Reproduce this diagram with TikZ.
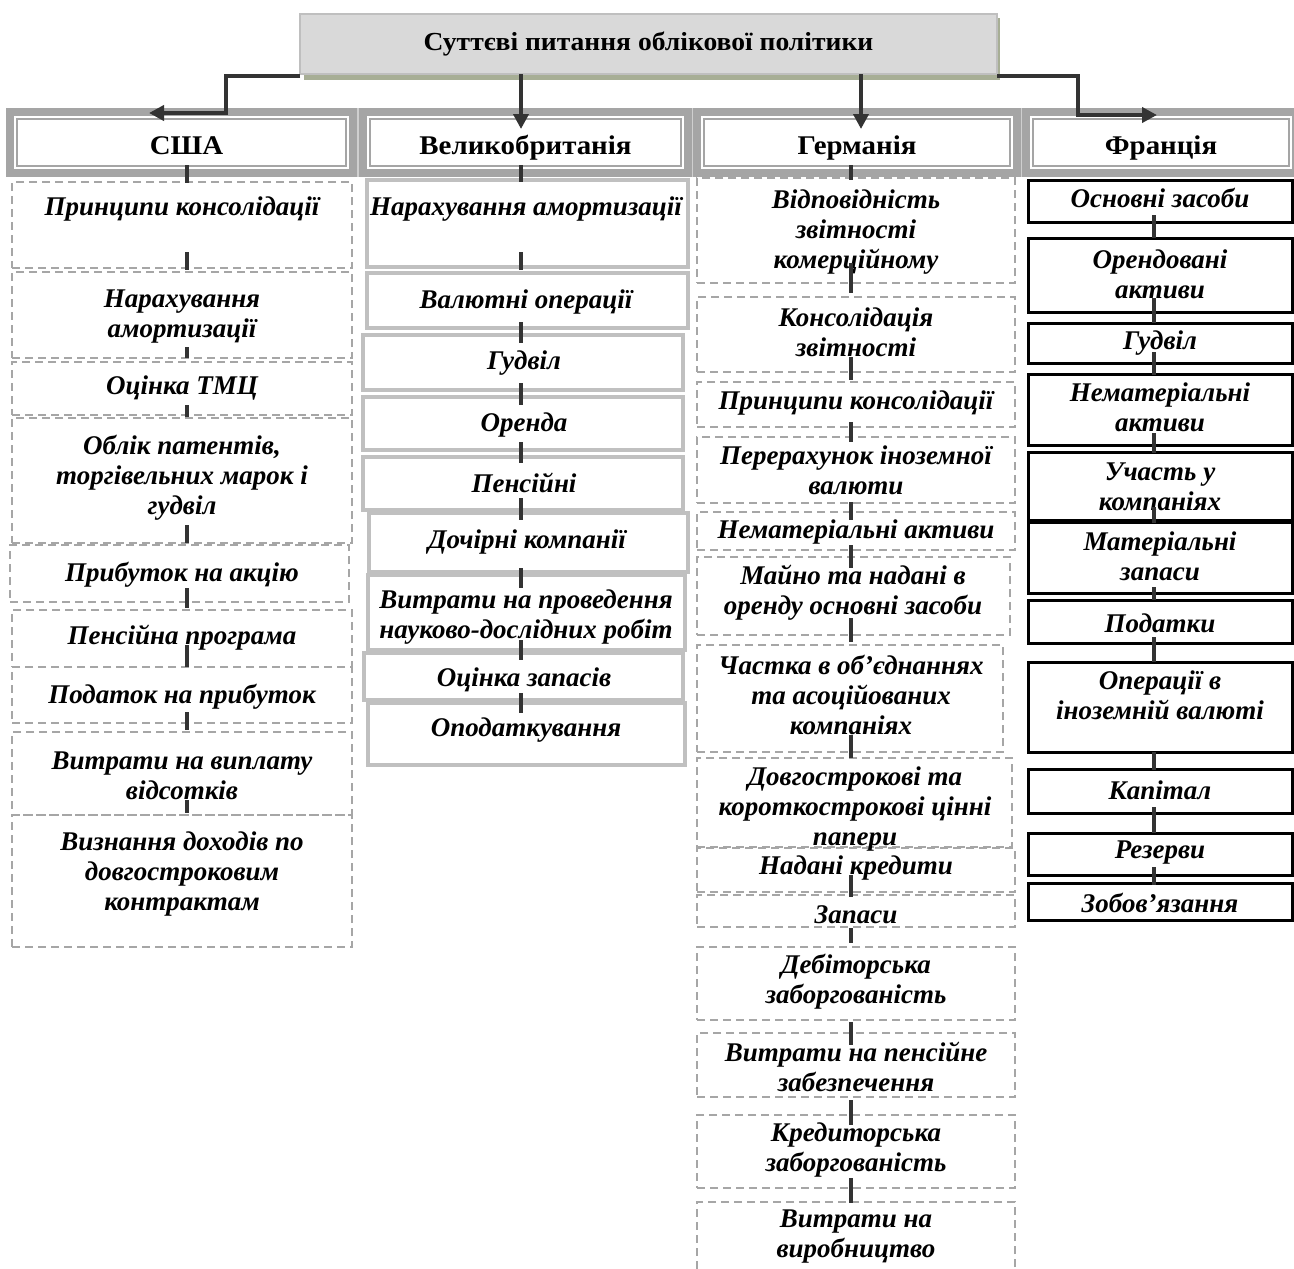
\documentclass[tikz,border=0pt]{standalone}
\usepackage{fontspec}
\setmainfont{Liberation Serif}
\usetikzlibrary{arrows.meta,calc}
\definecolor{cl}{HTML}{333333}
\definecolor{dg}{HTML}{A6A6A6}
\definecolor{ukg}{HTML}{C0C0C0}
\definecolor{hg}{HTML}{A5A5A5}
\definecolor{hsep}{HTML}{CFCFCF}
\definecolor{tf}{HTML}{D9D9D9}
\definecolor{tb}{HTML}{BFBFBF}
\definecolor{sh}{HTML}{A7AE95}
\newfontfamily\hdrfont[FakeStretch=1.07]{Liberation Serif}
\newfontfamily\ttlfont[FakeStretch=1.06]{Liberation Serif}
\newcommand\bx[6]{\node[#1, minimum width={#5-#3}, minimum height={#6-#4}, anchor=north west] (#2) at (#3,#4) {};}
\newcommand\tx[4]{\node[it] (#1) at (#2,#3) {#4};}
\newcommand\cn[5]{\draw[conn] ($(#1.south -| #5)+(0,{0-(#3)})$) -- ($(#2.north -| #5)+(0,{#4})$);}
\begin{document}
\begin{tikzpicture}[x=1pt,y=-1pt,
  it/.style={font=\fontsize{27}{30}\selectfont\bfseries\itshape, align=center, inner sep=0pt},
  hdr/.style={draw=hg, line width=2.5pt, fill=white, inner sep=0pt, outer sep=0pt, text height=25pt, text depth=2pt, font=\hdrfont\fontsize{27}{30}\selectfont\bfseries},
  ttl/.style={draw=tb, line width=1.5pt, fill=tf, inner sep=0pt, outer sep=0pt, font=\ttlfont\fontsize{26}{30}\selectfont\bfseries},
  usab/.style={draw=dg, line width=2pt, dash pattern=on 8pt off 5pt, inner sep=0pt, outer sep=0pt},
  ukb/.style={draw=ukg, line width=4pt, fill=white, inner sep=0pt, outer sep=0pt},
  frb/.style={draw=black, line width=3pt, fill=white, inner sep=0pt, outer sep=0pt},
  conn/.style={draw=cl, line width=4pt},
  arr/.style={draw=cl, line width=4pt, line join=miter, -{Triangle[length=15pt,width=15pt]}}]
\useasboundingbox (0,0) rectangle (1294,1269);
\fill[white] (0,0) rectangle (1294,1269);
% title
\fill[sh] (304,18) rectangle (1000,80);
\node[ttl, minimum width=697, minimum height=60, anchor=north west] (tt) at (300,14) {Суттєві питання облікової політики};
% header band
\fill[hsep] (6,108) rectangle (1300,177);
\fill[hg] (6,108) rectangle (357,177);
\fill[hg] (359,108) rectangle (692,177);
\fill[hg] (693,108) rectangle (1021,177);
\fill[hg] (1022,108) rectangle (1300,177);
\fill[white] (14,116) rectangle (349,169);
\fill[white] (367,116) rectangle (684,169);
\fill[white] (701,116) rectangle (1013,169);
\fill[white] (1030,116) rectangle (1292,169);
\node[hdr, minimum width=329, minimum height=47, anchor=north west] (hU) at (17,119) {\hspace*{10pt}США};
\node[hdr, minimum width=311, minimum height=47, anchor=north west] (hK) at (370,119) {Великобританія};
\node[hdr, minimum width=306, minimum height=47, anchor=north west] (hG) at (704,119) {Германія};
\node[hdr, minimum width=256, minimum height=47, anchor=north west] (hF) at (1033,119) {Франція};
% USA boxes
\bx{usab}{u1}{12}{182}{352}{268}
\bx{usab}{u2}{12}{272}{352}{358}
\bx{usab}{u3}{12}{362}{352}{415}
\bx{usab}{u4}{12}{418}{352}{543}
\bx{usab}{u5}{10}{545}{349}{602}
\bx{usab}{u6}{12}{610}{352}{667}
\bx{usab}{u7}{12}{667}{352}{723}
\bx{usab}{u8}{12}{732}{352}{815}
\bx{usab}{u9}{12}{815}{352}{947}
% UK boxes
\bx{ukb}{k1}{367}{180}{688}{267}
\bx{ukb}{k2}{367}{273}{688}{328}
\bx{ukb}{k3}{363}{335}{683}{390}
\bx{ukb}{k4}{363}{397}{683}{450}
\bx{ukb}{k5}{363}{457}{683}{510}
\bx{ukb}{k6}{369}{513}{688}{572}
\bx{ukb}{k7}{368}{575}{685}{650}
\bx{ukb}{k8}{364}{653}{683}{700}
\bx{ukb}{k9}{368}{703}{685}{765}
% Germany boxes
\bx{usab}{g1}{697}{178}{1015}{283}
\bx{usab}{g2}{697}{297}{1015}{372}
\bx{usab}{g3}{697}{382}{1015}{427}
\bx{usab}{g4}{697}{437}{1015}{503}
\bx{usab}{g5}{697}{512}{1015}{550}
\bx{usab}{g6}{697}{557}{1010}{635}
\bx{usab}{g7}{697}{645}{1003}{752}
\bx{usab}{g8}{697}{758}{1012}{847}
\bx{usab}{g9}{697}{848}{1015}{892}
\bx{usab}{g10}{697}{895}{1015}{927}
\bx{usab}{g11}{697}{947}{1015}{1020}
\bx{usab}{g12}{697}{1033}{1015}{1097}
\bx{usab}{g13}{697}{1115}{1015}{1188}
\bx{usab}{g14}{697}{1202}{1015}{1300}
% France boxes
\bx{frb}{f1}{1028}{180}{1292}{222}
\bx{frb}{f2}{1028}{238}{1292}{312}
\bx{frb}{f3}{1028}{323}{1292}{363}
\bx{frb}{f4}{1028}{374}{1292}{445}
\bx{frb}{f5}{1028}{452}{1292}{520}
\bx{frb}{f6}{1028}{522}{1292}{593}
\bx{frb}{f7}{1028}{600}{1292}{643}
\bx{frb}{f8}{1028}{662}{1292}{752}
\bx{frb}{f9}{1028}{769}{1292}{813}
\bx{frb}{f10}{1028}{833}{1292}{875}
\bx{frb}{f11}{1028}{883}{1292}{920}
% USA texts
\tx{u1t}{182}{209}{Принципи консолідації}
\tx{u2t}{182}{317}{Нарахування\\амортизації}
\tx{u3t}{182}{388}{Оцінка ТМЦ}
\tx{u4t}{182}{478}{Облік патентів,\\торгівельних марок і\\гудвіл}
\tx{u5t}{182}{575}{Прибуток на акцію}
\tx{u6t}{182}{638}{Пенсійна програма}
\tx{u7t}{182}{697}{Податок на прибуток}
\tx{u8t}{182}{776}{Витрати на виплату\\відсотків}
\tx{u9t}{182}{874}{Визнання доходів по\\довгостроковим\\контрактам}
% UK texts
\tx{k1t}{526}{209}{Нарахування амортизації}
\tx{k2t}{526}{302}{Валютні операції}
\tx{k3t}{524}{363}{Гудвіл}
\tx{k4t}{524}{425}{Оренда}
\tx{k5t}{524}{483}{Пенсійні}
\tx{k6t}{527}{542}{Дочірні компанії}
\tx{k7t}{526}{617}{Витрати на проведення\\науково-дослідних робіт}
\tx{k8t}{524}{680}{Оцінка запасів}
\tx{k9t}{526}{730}{Оподаткування}
% Germany texts
\tx{g1t}{856}{232}{Відповідність\\звітності\\комерційному}
\tx{g2t}{856}{332}{Консолідація\\звітності}
\tx{g3t}{856}{403}{Принципи консолідації}
\tx{g4t}{856}{470}{Перерахунок іноземної\\валюти}
\tx{g5t}{856}{532}{Нематеріальні активи}
\tx{g6t}{853}{593}{Майно та надані в\\оренду основні засоби}
\tx{g7t}{851}{695}{Частка в об’єднаннях\\та асоційованих\\компаніях}
\tx{g8t}{855}{809}{Довгострокові та\\короткострокові цінні\\папери}
\tx{g9t}{856}{868}{Надані кредити}
\tx{g10t}{856}{915}{Запаси}
\tx{g11t}{856}{982}{Дебіторська\\заборгованість}
\tx{g12t}{856}{1067}{Витрати на пенсійне\\забезпечення}
\tx{g13t}{856}{1150}{Кредиторська\\заборгованість}
\tx{g14t}{856}{1237}{Витрати на\\виробництво}
% France texts
\tx{f1t}{1160}{198}{Основні засоби}
\tx{f2t}{1160}{274}{Орендовані\\активи}
\tx{f3t}{1160}{343}{Гудвіл}
\tx{f4t}{1160}{407}{Нематеріальні\\активи}
\tx{f5t}{1160}{487}{Участь у\\компаніях}
\tx{f6t}{1160}{556}{Матеріальні\\запаси}
\tx{f7t}{1160}{623}{Податки}
\tx{f8t}{1160}{695}{Операції в\\іноземній валюті}
\tx{f9t}{1160}{790}{Капітал}
\tx{f10t}{1160}{853}{Резерви}
\tx{f11t}{1160}{903}{Зобов’язання}
% connector columns
\coordinate (xU) at (187,0);
\coordinate (xK) at (521,0);
\coordinate (xG) at (851,0);
\coordinate (xF) at (1154,0);
% USA connectors
\cn{hU}{u1}{1}{1}{xU}
\cn{u1}{u2}{16}{-2}{xU}
\cn{u2}{u3}{11}{-4}{xU}
\cn{u3}{u4}{10}{-1}{xU}
\cn{u4}{u5}{18}{-2}{xU}
\cn{u5}{u6}{14}{-2}{xU}
\cn{u6}{u7}{22}{0}{xU}
\cn{u7}{u8}{11}{-2}{xU}
\cn{u8}{u9}{15}{-2}{xU}
% UK connectors
\cn{hK}{k1}{1}{2}{xK}
\cn{k1}{k2}{15}{-3}{xK}
\cn{k2}{k3}{6}{8}{xK}
\cn{k3}{k4}{7}{8}{xK}
\cn{k4}{k5}{8}{6}{xK}
\cn{k5}{k6}{12}{7}{xK}
\cn{k6}{k7}{4}{13}{xK}
\cn{k7}{k8}{10}{7}{xK}
\cn{k8}{k9}{7}{10}{xK}
% Germany connectors
\cn{hG}{g1}{1}{2}{xG}
\cn{g1}{g2}{20}{-4}{xG}
\cn{g2}{g3}{15}{-2}{xG}
\cn{g3}{g4}{5}{5}{xG}
\cn{g4}{g5}{1}{8}{xG}
\cn{g5}{g6}{5}{11}{xG}
\cn{g6}{g7}{17}{-3}{xG}
\cn{g7}{g8}{17}{0}{xG}
\cn{g9}{g10}{17}{2}{xG}
\cn{g10}{g11}{-1}{-4}{xG}
\cn{g11}{g12}{-2}{12}{xG}
\cn{g12}{g13}{-3}{10}{xG}
\cn{g13}{g14}{10}{1}{xG}
% France connectors
\cn{f1}{f2}{7}{0}{xF}
\cn{f2}{f3}{14}{0}{xF}
\cn{f3}{f4}{11}{1}{xF}
\cn{f4}{f5}{12}{1}{xF}
\cn{f5}{f6}{13}{1}{xF}
\cn{f6}{f7}{6}{0}{xF}
\cn{f7}{f8}{6}{0}{xF}
\cn{f8}{f9}{0}{1}{xF}
\cn{f9}{f10}{6}{0}{xF}
\cn{f10}{f11}{8}{2}{xF}
% arrows from title
\coordinate (lk) at (226,113);
\coordinate (aL) at (149,113);
\coordinate (aK) at (521,129);
\coordinate (aG) at (861,129);
\coordinate (rk) at (1078,115);
\coordinate (aR) at (1157,115);
\draw[arr] ($(tt.south west)+(0,2)$) -| (lk) -- (aL);
\draw[arr] (tt.south -| aK) -- (aK);
\draw[arr] (tt.south -| aG) -- (aG);
\draw[arr] ($(tt.south east)+(0,2)$) -| (rk) -- (aR);
\end{tikzpicture}
\end{document}
